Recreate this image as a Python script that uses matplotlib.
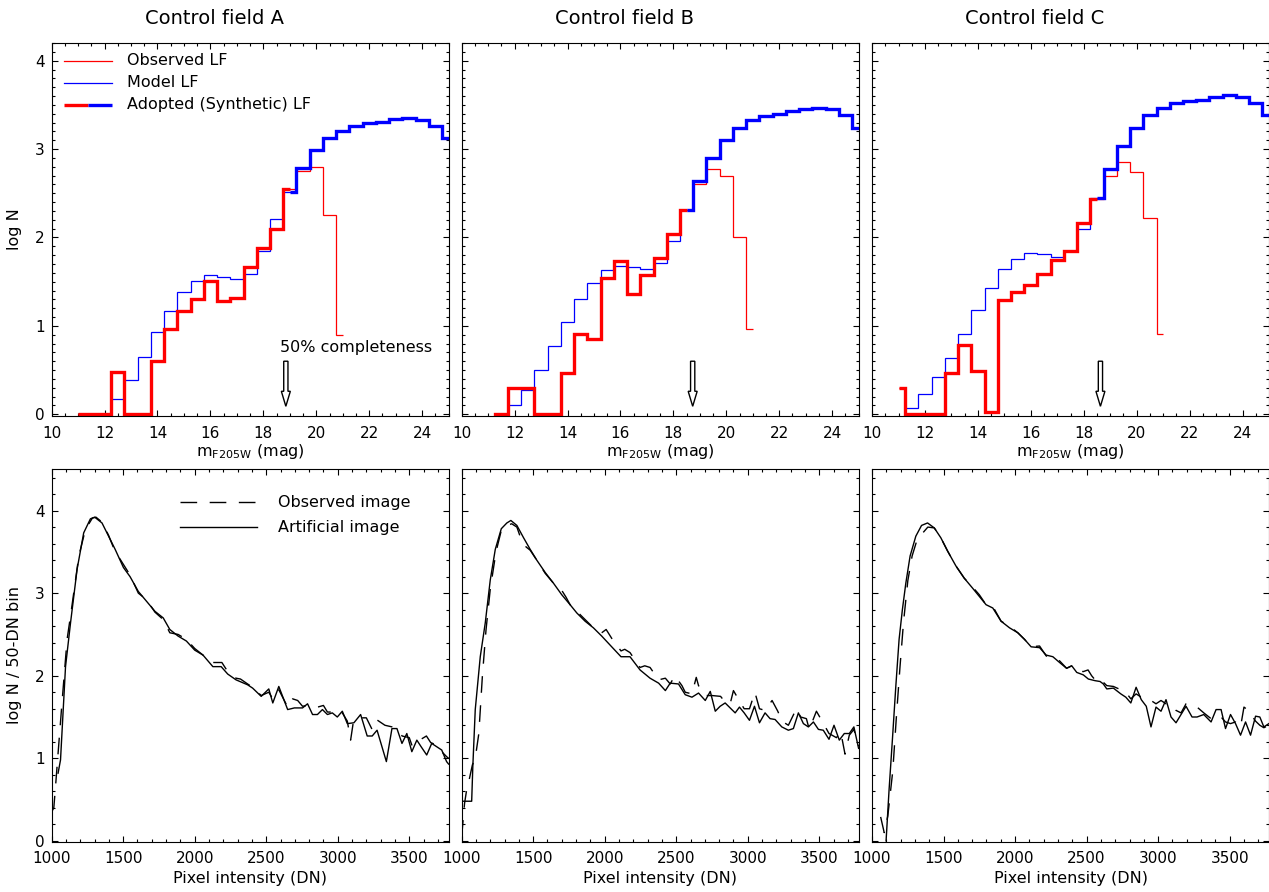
import numpy as np
import matplotlib
matplotlib.use('Agg')
import matplotlib.pyplot as plt
from matplotlib.ticker import MultipleLocator
from matplotlib.patches import FancyArrow

plt.rcParams['font.family'] = ['DejaVu Sans']
nan = np.nan

# --- luminosity functions (log N per 0.5 mag bin), bin centres 11.0 ... 25.0
mag_bins = np.arange(11.0, 25.01, 0.5)

obs_lf_a = [0.0, 0.0, 0.0, 0.48, 0.0, 0.0, 0.60, 0.96, 1.17, 1.30, 1.51, 1.28, 1.32, 1.67,
            1.88, 2.10, 2.55, 2.75, 2.80, 2.25, 0.90] + [nan] * 8
model_lf_a = [nan, nan, -0.5, 0.17, 0.39, 0.65, 0.93, 1.17, 1.38, 1.51, 1.57, 1.55, 1.53, 1.59,
              1.85, 2.21, 2.52, 2.79, 2.99, 3.13, 3.21, 3.26, 3.29, 3.31, 3.34, 3.35, 3.33, 3.26, 3.13]

obs_lf_b = [-0.5, 0.0, 0.30, 0.30, 0.0, 0.0, 0.47, 0.91, 0.85, 1.54, 1.73, 1.36, 1.58, 1.77,
            2.04, 2.31, 2.60, 2.77, 2.69, 2.01, 0.96] + [nan] * 8
model_lf_b = [nan, -0.5, 0.10, 0.28, 0.50, 0.77, 1.04, 1.30, 1.49, 1.63, 1.68, 1.67, 1.64, 1.71,
              1.96, 2.31, 2.64, 2.90, 3.10, 3.24, 3.33, 3.37, 3.40, 3.43, 3.45, 3.46, 3.45, 3.38, 3.24]

obs_lf_c = [0.30, 0.0, 0.0, 0.0, 0.47, 0.78, 0.49, 0.03, 1.29, 1.38, 1.46, 1.59, 1.74, 1.85,
            2.16, 2.44, 2.70, 2.85, 2.74, 2.22, 0.91] + [nan] * 8
model_lf_c = [-0.5, 0.07, 0.23, 0.42, 0.64, 0.91, 1.18, 1.43, 1.64, 1.76, 1.82, 1.81, 1.78, 1.85,
              2.10, 2.45, 2.78, 3.04, 3.24, 3.38, 3.46, 3.52, 3.54, 3.56, 3.59, 3.61, 3.59, 3.52, 3.38]

fields = ['A', 'B', 'C']
switch_mag = [19.0, 18.5, 18.5]       # adopted LF: observed below, model above
completeness_mag = [18.85, 18.73, 18.63]

# --- pixel intensity histograms (log N per 50-DN bin)
art_dn_a = [1045, 1062, 1097, 1132, 1178, 1224, 1271, 1301, 1352, 1398, 1444, 1502, 1548, 1606,
            1664, 1722, 1780, 1826, 1884, 1942, 2000, 2058, 2127, 2185, 2231, 2289, 2370, 2405,
            2465, 2518, 2546, 2588, 2650, 2697, 2754, 2789, 2824, 2858, 2893, 2928, 2962, 2997,
            3032, 3067, 3113, 3160, 3206, 3241, 3275, 3340, 3379, 3414, 3449, 3483, 3518, 3553,
            3583, 3622, 3657, 3692, 3727, 3761, 3775]
art_a = [0.82, 0.98, 2.11, 2.64, 3.29, 3.73, 3.90, 3.92, 3.85, 3.69, 3.53, 3.31, 3.20, 3.02,
         2.90, 2.78, 2.70, 2.56, 2.48, 2.42, 2.31, 2.25, 2.11, 2.11, 2.02, 1.95, 1.89, 1.85,
         1.75, 1.84, 1.67, 1.87, 1.59, 1.61, 1.61, 1.66, 1.53, 1.53, 1.59, 1.53, 1.55, 1.50,
         1.57, 1.42, 1.43, 1.53, 1.27, 1.27, 1.34, 0.96, 1.36, 1.36, 1.18, 1.30, 1.08, 1.22,
         1.14, 1.04, 1.18, 1.14, 1.10, 0.96, 0.93]
obs_dn_a = [1000, 1015, 1025, 1040, 1074, 1108, 1139, 1190, 1236, 1285, 1310, 1352, 1398, 1444,
            1479, 1548, 1606, 1664, 1722, 1780, 1826, 1884, 1942, 2000, 2058, 2110, 2190, 2231,
            2289, 2320, 2370, 2405, 2465, 2518, 2546, 2588, 2650, 2685, 2720, 2754, 2789, 2824,
            2860, 2900, 2928, 2962, 2997, 3032, 3067, 3090, 3110, 3150, 3200, 3240, 3270, 3330,
            3380, 3414, 3450, 3500, 3520, 3553, 3620, 3650, 3692, 3727, 3761, 3775]
obs_a = [0.35, 0.40, 0.61, 0.95, 1.71, 2.44, 2.81, 3.45, 3.77, 3.91, 3.92, 3.86, 3.70, 3.50,
         3.41, 3.22, 3.00, 2.92, 2.77, 2.68, 2.52, 2.50, 2.44, 2.33, 2.25, 2.16, 2.16, 2.05,
         1.97, 1.96, 1.90, 1.86, 1.76, 1.80, 1.72, 1.83, 1.62, 1.72, 1.70, 1.63, 1.64, 1.64,
         1.62, 1.64, 1.56, 1.56, 1.52, 1.55, 1.45, 1.22, 1.45, 1.49, 1.49, 1.35, 1.47, 1.40,
         1.38, 1.35, 1.27, 1.25, 1.15, 1.20, 1.27, 1.19, 1.16, 1.08, 1.02, 1.00]

art_dn_b = [1000, 1070, 1078, 1095, 1130, 1165, 1200, 1235, 1277, 1316, 1344, 1386, 1433, 1479,
            1525, 1584, 1642, 1700, 1758, 1805, 1863, 1921, 1979, 2049, 2114, 2177, 2247, 2317,
            2377, 2424, 2458, 2516, 2563, 2610, 2656, 2703, 2738, 2773, 2807, 2842, 2877, 2912,
            2942, 2975, 3012, 3047, 3082, 3121, 3156, 3191, 3238, 3284, 3319, 3354, 3389, 3424,
            3459, 3494, 3528, 3568, 3603, 3640, 3675, 3710, 3742, 3775]
art_b = [0.48, 0.48, 0.90, 1.59, 2.23, 2.64, 3.16, 3.53, 3.78, 3.85, 3.88, 3.82, 3.67, 3.53,
         3.40, 3.25, 3.12, 2.98, 2.86, 2.76, 2.66, 2.58, 2.48, 2.35, 2.23, 2.23, 2.07, 1.97,
         1.91, 1.82, 1.91, 1.90, 1.77, 1.74, 1.79, 1.70, 1.81, 1.57, 1.63, 1.67, 1.61, 1.55,
         1.62, 1.55, 1.46, 1.63, 1.43, 1.55, 1.48, 1.47, 1.38, 1.34, 1.36, 1.55, 1.42, 1.38,
         1.44, 1.35, 1.34, 1.23, 1.40, 1.22, 1.30, 1.30, 1.38, 1.12]
obs_dn_b = [1000, 1020, 1035, 1050, 1075, 1095, 1120, 1145, 1170, 1200, 1240, 1280, 1316, 1350,
            1386, 1410, 1450, 1479, 1525, 1584, 1642, 1690, 1730, 1758, 1805, 1863, 1921, 1979,
            2010, 2050, 2114, 2140, 2177, 2247, 2280, 2317, 2377, 2424, 2458, 2490, 2540, 2563,
            2610, 2640, 2656, 2703, 2750, 2810, 2842, 2877, 2900, 2940, 2975, 3012, 3050, 3082,
            3121, 3170, 3210, 3238, 3284, 3340, 3370, 3410, 3430, 3480, 3520, 3568, 3620, 3650,
            3680, 3710, 3742, 3775]
obs_b = [0.05, 0.45, 0.62, 0.72, 0.92, 1.00, 1.30, 2.00, 2.55, 3.05, 3.50, 3.78, 3.82, 3.84,
         3.80, 3.68, 3.56, 3.52, 3.40, 3.24, 3.12, 3.06, 2.95, 2.86, 2.78, 2.68, 2.58, 2.52,
         2.56, 2.45, 2.30, 2.32, 2.28, 2.10, 2.12, 2.10, 1.95, 1.97, 1.90, 2.00, 1.88, 1.80,
         1.78, 1.98, 1.88, 1.76, 1.76, 1.75, 1.68, 1.66, 1.82, 1.70, 1.60, 1.60, 1.80, 1.60,
         1.58, 1.70, 1.57, 1.45, 1.40, 1.60, 1.50, 1.48, 1.35, 1.57, 1.45, 1.30, 1.25, 1.32,
         1.05, 1.28, 1.35, 1.15]

art_dn_c = [1098, 1119, 1142, 1166, 1189, 1212, 1236, 1266, 1306, 1346, 1388, 1435, 1481, 1528,
            1586, 1645, 1703, 1750, 1797, 1844, 1902, 1961, 2019, 2066, 2112, 2171, 2217, 2264,
            2311, 2360, 2396, 2431, 2477, 2512, 2559, 2594, 2617, 2641, 2687, 2739, 2774, 2809,
            2846, 2882, 2917, 2950, 2985, 3020, 3055, 3090, 3125, 3160, 3195, 3237, 3272, 3319,
            3370, 3405, 3440, 3471, 3506, 3541, 3576, 3611, 3646, 3681, 3711, 3739, 3774]
art_c = [0.00, 0.62, 1.22, 1.87, 2.44, 2.80, 3.12, 3.45, 3.69, 3.82, 3.85, 3.79, 3.67, 3.51,
         3.33, 3.18, 3.06, 2.96, 2.86, 2.82, 2.66, 2.58, 2.52, 2.44, 2.35, 2.34, 2.25, 2.23,
         2.16, 2.09, 2.12, 2.04, 2.01, 1.96, 1.94, 1.93, 1.90, 1.84, 1.85, 1.78, 1.74, 1.67,
         1.86, 1.71, 1.63, 1.38, 1.62, 1.57, 1.71, 1.50, 1.43, 1.53, 1.63, 1.50, 1.50, 1.53,
         1.44, 1.59, 1.59, 1.36, 1.53, 1.42, 1.28, 1.44, 1.28, 1.51, 1.50, 1.38, 1.42]
obs_dn_c = [1060, 1085, 1110, 1145, 1170, 1195, 1220, 1250, 1280, 1310, 1350, 1390, 1435, 1481,
            1528, 1586, 1645, 1690, 1750, 1797, 1844, 1902, 1961, 2019, 2066, 2112, 2171, 2217,
            2264, 2311, 2360, 2396, 2431, 2477, 2510, 2535, 2559, 2594, 2617, 2641, 2687, 2739,
            2774, 2809, 2846, 2882, 2917, 2950, 2985, 3020, 3055, 3090, 3125, 3160, 3195, 3237,
            3272, 3319, 3370, 3405, 3440, 3471, 3506, 3541, 3576, 3600, 3630, 3681, 3711, 3739,
            3774]
obs_c = [0.29, 0.10, 0.30, 0.85, 1.50, 2.10, 2.65, 3.15, 3.45, 3.62, 3.72, 3.80, 3.79, 3.67,
         3.51, 3.33, 3.18, 3.10, 2.98, 2.86, 2.84, 2.66, 2.60, 2.52, 2.44, 2.35, 2.36, 2.24,
         2.21, 2.18, 2.09, 2.12, 2.06, 2.05, 2.07, 2.00, 1.95, 1.97, 1.92, 1.88, 1.87, 1.83,
         1.80, 1.72, 1.78, 1.74, 1.72, 1.70, 1.66, 1.70, 1.66, 1.66, 1.58, 1.55, 1.66, 1.63,
         1.62, 1.55, 1.48, 1.52, 1.50, 1.44, 1.42, 1.44, 1.38, 1.62, 1.58, 1.45, 1.40, 1.37,
         1.40]

lf_obs = [obs_lf_a, obs_lf_b, obs_lf_c]
lf_model = [model_lf_a, model_lf_b, model_lf_c]
pix_art = [(art_dn_a, art_a), (art_dn_b, art_b), (art_dn_c, art_c)]
pix_obs = [(obs_dn_a, obs_a), (obs_dn_b, obs_b), (obs_dn_c, obs_c)]

TICK_FS = 11
LABEL_FS = 11.5


def hist_step(ax, x, y, **kw):
    # histogram-style line that starts and stops at the first/last bin centre
    y = np.asarray(y, dtype=float)
    ok = np.isfinite(y)
    ax.step(np.asarray(x)[ok], y[ok], where='mid', solid_joinstyle='miter',
            solid_capstyle='butt', **kw)


def style_axes(ax, show_ylabels):
    ax.tick_params(which='both', direction='in', top=True, right=True,
                   labelsize=TICK_FS, width=0.8, pad=7)
    ax.tick_params(axis='y', which='both', pad=5)
    ax.tick_params(which='major', length=4.6)
    ax.tick_params(which='minor', length=2.3)
    if not show_ylabels:
        ax.tick_params(labelleft=False)
    for sp in ax.spines.values():
        sp.set_linewidth(0.8)


fig = plt.figure(figsize=(12.69, 8.92), dpi=100)
lefts = [0.0407, 0.3638, 0.6872]
width = 0.3128

for i, field in enumerate(fields):
    # ---------------- luminosity functions
    ax = fig.add_axes([lefts[i], 0.5336, width, 0.4182])
    obs = np.array(lf_obs[i])
    mod = np.array(lf_model[i])
    k = int(np.argmin(np.abs(mag_bins - switch_mag[i])))

    hist_step(ax, mag_bins, mod, color='blue', lw=0.9)
    hist_step(ax, mag_bins, obs, color='red', lw=0.9)
    hist_step(ax, mag_bins[:k + 1], obs[:k + 1], color='red', lw=2.4)
    hist_step(ax, mag_bins[k:], mod[k:], color='blue', lw=2.4)

    ax.add_patch(FancyArrow(completeness_mag[i], 0.60, 0, -0.51, width=0.16,
                            head_width=0.34, head_length=0.17, length_includes_head=True,
                            fc='white', ec='black', lw=1.0, zorder=3))

    ax.set_xlim(10, 25)
    ax.set_ylim(-0.02, 4.2)
    ax.set_xticks(range(10, 25, 2))
    ax.xaxis.set_minor_locator(MultipleLocator(0.5))
    ax.set_yticks(range(0, 5))
    ax.yaxis.set_minor_locator(MultipleLocator(0.1))
    style_axes(ax, i == 0)
    ax.set_xlabel(r'm$_{\mathregular{F205W}}$ (mag)', fontsize=LABEL_FS, labelpad=1)
    ax.text(0.41, 1.067, 'Control field ' + field, transform=ax.transAxes,
            ha='center', va='center', fontsize=14)

    if i == 0:
        ax.set_ylabel('log N', fontsize=LABEL_FS)
        ax.yaxis.set_label_coords(-0.075, 0.5)
        ax.text(completeness_mag[i] - 0.22, 0.75, '50% completeness', ha='left', va='center',
                fontsize=LABEL_FS)
        # legend
        tr = ax.transAxes
        ax.plot([0.031, 0.152], [0.953, 0.953], color='red', lw=0.9, transform=tr)
        ax.plot([0.031, 0.152], [0.893, 0.893], color='blue', lw=0.9, transform=tr)
        ax.plot([0.031, 0.092], [0.835, 0.835], color='red', lw=2.4, transform=tr,
                solid_capstyle='butt')
        ax.plot([0.092, 0.152], [0.835, 0.835], color='blue', lw=2.4, transform=tr,
                solid_capstyle='butt')
        for yy, txt in zip([0.953, 0.893, 0.835],
                           ['Observed LF', 'Model LF', 'Adopted (Synthetic) LF']):
            ax.text(0.19, yy, txt, transform=tr, ha='left', va='center', fontsize=LABEL_FS)

    # ---------------- pixel intensity distributions
    bx = fig.add_axes([lefts[i], 0.0564, width, 0.4175])
    bx.plot(pix_obs[i][0], pix_obs[i][1], color='black', lw=1.0, dashes=(12, 9))
    bx.plot(pix_art[i][0], pix_art[i][1], color='black', lw=1.0)
    bx.set_xlim(1000, 3775)
    bx.set_ylim(-0.01, 4.5)
    bx.set_xticks(range(1000, 3501, 500))
    bx.xaxis.set_minor_locator(MultipleLocator(100))
    bx.set_yticks(range(0, 5))
    bx.yaxis.set_minor_locator(MultipleLocator(0.2))
    style_axes(bx, i == 0)
    bx.set_xlabel('Pixel intensity (DN)', fontsize=LABEL_FS, labelpad=3)

    if i == 0:
        bx.set_ylabel('log N / 50-DN bin', fontsize=LABEL_FS)
        bx.yaxis.set_label_coords(-0.075, 0.5)
        tr = bx.transAxes
        bx.plot([0.324, 0.517], [0.911, 0.911], color='black', lw=1.0, dashes=(12, 9),
                transform=tr)
        bx.plot([0.324, 0.517], [0.844, 0.844], color='black', lw=1.0, transform=tr)
        bx.text(0.570, 0.911, 'Observed image', transform=tr, ha='left', va='center',
                fontsize=LABEL_FS)
        bx.text(0.570, 0.844, 'Artificial image', transform=tr, ha='left', va='center',
                fontsize=LABEL_FS)

fig.savefig('out.png', dpi=100)
